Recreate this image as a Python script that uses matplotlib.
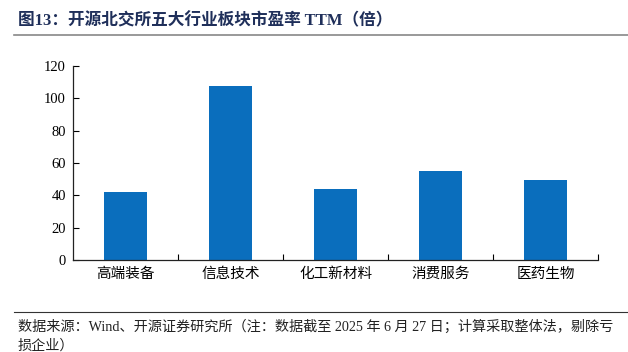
import matplotlib
matplotlib.use('Agg')
import matplotlib.pyplot as plt
from matplotlib.lines import Line2D

plt.rcParams['font.family'] = ['Liberation Serif', 'Noto Sans CJK SC']

# data
categories = ['高端装备', '信息技术', '化工新材料', '消费服务', '医药生物']
pe_ttm = [42.2, 107.8, 43.9, 55.0, 49.7]
yticks = [0, 20, 40, 60, 80, 100, 120]

title = '图13：开源北交所五大行业板块市盈率 TTM（倍）'
note_1 = '数据来源：Wind、开源证券研究所（注：数据截至 2025 年 6 月 27 日；计算采取整体法，剔除亏'
note_2 = '损企业）'

fig = plt.figure(figsize=(6.28, 3.52), dpi=100)
ax = fig.add_axes([73/628, 92/352, 525/628, 194/352])

x = range(len(categories))
ax.bar(x, pe_ttm, width=0.41, color='#0A6EBD', zorder=2)

ax.set_xlim(-0.5, len(categories) - 0.5)
ax.set_ylim(0, 120)
ax.set_yticks(yticks)
ax.set_yticklabels([str(v) for v in yticks], fontsize=10.5, family='Liberation Serif')
# category labels centred, ticks at the boundaries
ax.set_xticks([i + 0.5 for i in x])
ax.set_xticklabels([])
ax.set_xticks(list(x), minor=True)
ax.set_xticklabels(categories, minor=True, fontsize=10.5, family=['Noto Sans CJK SC'])
ax.tick_params(axis='x', which='minor', length=0, pad=5)
ax.tick_params(axis='x', which='major', direction='in', length=4, width=0.8)
ax.tick_params(axis='y', direction='in', length=4, width=0.8, pad=5)

for s in ['top', 'right']:
    ax.spines[s].set_visible(False)
for s in ['left', 'bottom']:
    ax.spines[s].set_linewidth(0.9)
    ax.spines[s].set_color('#222222')

# header and footer
fig.text(18/628, 1 - 21/352, title, fontsize=12, fontweight='bold', color='#1F2F5A',
         va='center', ha='left', family=['Liberation Serif', 'Noto Sans CJK SC'])
fig.add_artist(Line2D([14/628, 1], [1 - 35/352, 1 - 35/352], color='#888888', lw=1.2))
fig.add_artist(Line2D([14/628, 1], [1 - 312/352, 1 - 312/352], color='#333333', lw=0.8))
fig.text(18/628, 1 - 327/352, note_1, fontsize=10.2, color='#222222', va='center', ha='left',
         family=['Liberation Serif', 'Noto Sans CJK SC'])
fig.text(18/628, 1 - 346/352, note_2, fontsize=10.2, color='#222222', va='center', ha='left',
         family=['Liberation Serif', 'Noto Sans CJK SC'])

fig.savefig('out.png', dpi=100)
